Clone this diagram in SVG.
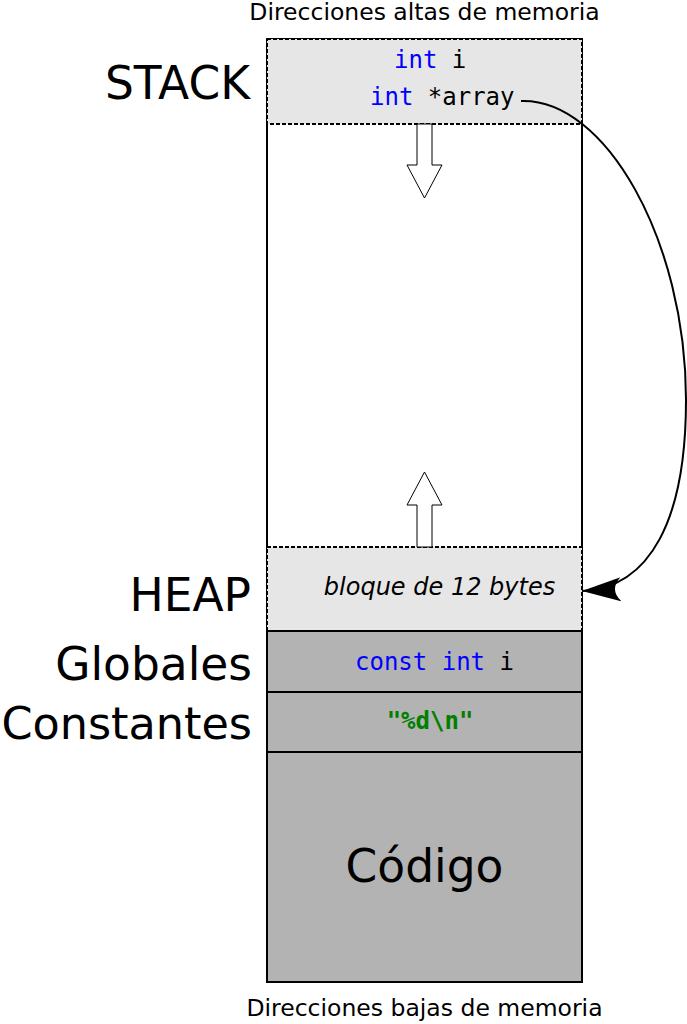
<svg xmlns="http://www.w3.org/2000/svg" width="687" height="1024" viewBox="0 0 687 1024">
<style>
.lbl{font-family:"DejaVu Sans",sans-serif;fill:#000}
.mono{font-family:"DejaVu Sans Mono",monospace;font-size:24px}
.kw{fill:#0000ff}
.solid{stroke:#000;stroke-width:2}
.dash{stroke:#000;stroke-width:2;stroke-dasharray:4,2}
</style>
<defs>
<marker id="ah" viewBox="0 0 39 24" refX="39" refY="12" markerWidth="39" markerHeight="24" markerUnits="userSpaceOnUse" orient="auto">
<path d="M39,12 L0,0 Q12,12 0,24 Z" fill="#000"/>
</marker>
</defs>
<text class="lbl" x="424.5" y="20" font-size="23.5" text-anchor="middle">Direcciones altas de memoria</text>
<text class="lbl" x="424.5" y="1016" font-size="23.5" text-anchor="middle">Direcciones bajas de memoria</text>
<g id="outer"><rect x="267" y="39" width="315" height="943" fill="#fff" class="solid"/></g>
<g id="stack">
<rect x="267" y="39" width="315" height="85" fill="#e6e6e6" class="dash"/>
<text class="lbl" x="250" y="99" font-size="45.5" text-anchor="end">STACK</text>
<text class="mono" x="394" y="68"><tspan class="kw">int</tspan> i</text>
<text class="mono" x="370" y="105"><tspan class="kw">int</tspan> *array</text>
</g>
<g id="heap">
<rect x="267" y="547" width="315" height="84" fill="#e6e6e6" class="dash"/>
<text class="lbl" x="251" y="611" font-size="45.5" text-anchor="end">HEAP</text>
<text class="lbl" x="439.5" y="595" font-size="24" font-style="italic" text-anchor="middle">bloque de 12 bytes</text>
</g>
<g id="globales">
<rect x="267" y="631" width="315" height="61" fill="#b3b3b3" class="solid"/>
<text class="lbl" x="252" y="680" font-size="45.5" text-anchor="end">Globales</text>
<text class="mono" x="355" y="670"><tspan class="kw">const int</tspan> i</text>
</g>
<g id="constantes">
<rect x="267" y="692" width="315" height="60" fill="#b3b3b3" class="solid"/>
<text class="lbl" x="252" y="739" font-size="44.5" text-anchor="end">Constantes</text>
<text class="mono" x="430" y="729" font-weight="bold" fill="#008000" text-anchor="middle">"%d\n"</text>
</g>
<g id="codigo">
<rect x="267" y="752" width="315" height="230" fill="#b3b3b3" class="solid"/>
<text class="lbl" x="424.5" y="882" font-size="45.5" text-anchor="middle">Código</text>
</g>
<g id="connectors">
<path d="M417,124 V165 H407 L424.5,198 L442,165 H432 V124 Z" fill="#fff" stroke="#000" stroke-width="1"/>
<path d="M417,547 V505 H407 L424.5,472 L442,505 H432 V547 Z" fill="#fff" stroke="#000" stroke-width="1"/>
<path d="M521,101 C605,98 686,240 686,400 C686,520 650,588 582,591" fill="none" stroke="#000" stroke-width="2" marker-end="url(#ah)"/>
</g>
</svg>
